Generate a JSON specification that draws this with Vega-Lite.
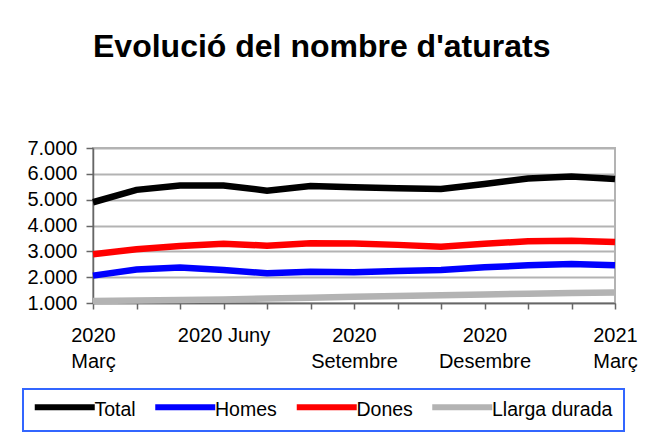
{
  "$schema": "https://vega.github.io/schema/vega-lite/v6.json",
  "width": 522,
  "height": 155,
  "autosize": {"type": "none"},
  "padding": {"left": 93, "top": 148, "right": 50, "bottom": 132},
  "background": "white",
  "config": {
    "font": "Liberation Sans",
    "view": {"stroke": "#b3b3b3", "strokeWidth": 2}
  },
  "title": {
    "text": "Evolució del nombre d'aturats",
    "anchor": "start",
    "frame": "group",
    "fontSize": 32,
    "fontWeight": "bold",
    "color": "black",
    "offset": 74
  },
  "data": {
    "values": [
      {"mes": "2020 Març", "serie": "Total", "aturats": 4900},
      {"mes": "2020 Abril", "serie": "Total", "aturats": 5380},
      {"mes": "2020 Maig", "serie": "Total", "aturats": 5550},
      {"mes": "2020 Juny", "serie": "Total", "aturats": 5550},
      {"mes": "2020 Juliol", "serie": "Total", "aturats": 5350},
      {"mes": "2020 Agost", "serie": "Total", "aturats": 5530},
      {"mes": "2020 Setembre", "serie": "Total", "aturats": 5480},
      {"mes": "2020 Octubre", "serie": "Total", "aturats": 5440},
      {"mes": "2020 Novembre", "serie": "Total", "aturats": 5410},
      {"mes": "2020 Desembre", "serie": "Total", "aturats": 5610},
      {"mes": "2021 Gener", "serie": "Total", "aturats": 5820},
      {"mes": "2021 Febrer", "serie": "Total", "aturats": 5900},
      {"mes": "2021 Març", "serie": "Total", "aturats": 5800},
      {"mes": "2020 Març", "serie": "Homes", "aturats": 2060},
      {"mes": "2020 Abril", "serie": "Homes", "aturats": 2300},
      {"mes": "2020 Maig", "serie": "Homes", "aturats": 2370},
      {"mes": "2020 Juny", "serie": "Homes", "aturats": 2280},
      {"mes": "2020 Juliol", "serie": "Homes", "aturats": 2150},
      {"mes": "2020 Agost", "serie": "Homes", "aturats": 2210},
      {"mes": "2020 Setembre", "serie": "Homes", "aturats": 2190},
      {"mes": "2020 Octubre", "serie": "Homes", "aturats": 2240},
      {"mes": "2020 Novembre", "serie": "Homes", "aturats": 2280},
      {"mes": "2020 Desembre", "serie": "Homes", "aturats": 2380},
      {"mes": "2021 Gener", "serie": "Homes", "aturats": 2460},
      {"mes": "2021 Febrer", "serie": "Homes", "aturats": 2510},
      {"mes": "2021 Març", "serie": "Homes", "aturats": 2460},
      {"mes": "2020 Març", "serie": "Dones", "aturats": 2890},
      {"mes": "2020 Abril", "serie": "Dones", "aturats": 3080},
      {"mes": "2020 Maig", "serie": "Dones", "aturats": 3210},
      {"mes": "2020 Juny", "serie": "Dones", "aturats": 3290},
      {"mes": "2020 Juliol", "serie": "Dones", "aturats": 3220},
      {"mes": "2020 Agost", "serie": "Dones", "aturats": 3310},
      {"mes": "2020 Setembre", "serie": "Dones", "aturats": 3300},
      {"mes": "2020 Octubre", "serie": "Dones", "aturats": 3250},
      {"mes": "2020 Novembre", "serie": "Dones", "aturats": 3180},
      {"mes": "2020 Desembre", "serie": "Dones", "aturats": 3290},
      {"mes": "2021 Gener", "serie": "Dones", "aturats": 3390},
      {"mes": "2021 Febrer", "serie": "Dones", "aturats": 3410},
      {"mes": "2021 Març", "serie": "Dones", "aturats": 3360},
      {"mes": "2020 Març", "serie": "Llarga durada", "aturats": 1080},
      {"mes": "2020 Abril", "serie": "Llarga durada", "aturats": 1100},
      {"mes": "2020 Maig", "serie": "Llarga durada", "aturats": 1120},
      {"mes": "2020 Juny", "serie": "Llarga durada", "aturats": 1140},
      {"mes": "2020 Juliol", "serie": "Llarga durada", "aturats": 1170},
      {"mes": "2020 Agost", "serie": "Llarga durada", "aturats": 1200},
      {"mes": "2020 Setembre", "serie": "Llarga durada", "aturats": 1240},
      {"mes": "2020 Octubre", "serie": "Llarga durada", "aturats": 1270},
      {"mes": "2020 Novembre", "serie": "Llarga durada", "aturats": 1300},
      {"mes": "2020 Desembre", "serie": "Llarga durada", "aturats": 1330},
      {"mes": "2021 Gener", "serie": "Llarga durada", "aturats": 1360},
      {"mes": "2021 Febrer", "serie": "Llarga durada", "aturats": 1390},
      {"mes": "2021 Març", "serie": "Llarga durada", "aturats": 1410}
    ]
  },
  "mark": {"type": "line", "strokeWidth": 6.5, "clip": false},
  "encoding": {
    "x": {
      "field": "mes",
      "type": "ordinal",
      "sort": ["2020 Març", "2020 Abril", "2020 Maig", "2020 Juny", "2020 Juliol", "2020 Agost", "2020 Setembre", "2020 Octubre", "2020 Novembre", "2020 Desembre", "2021 Gener", "2021 Febrer", "2021 Març"],
      "scale": {"type": "point", "padding": 0},
      "axis": {
        "title": null,
        "labelAngle": 0,
        "labelFontSize": 20,
        "labelColor": "black",
        "labelPadding": 16,
        "labelLineHeight": 26,
        "labelOverlap": false,
        "labelBound": false,
        "labelFlush": false,
        "labelBaseline": "top",
        "labelExpr": "indexof(['2020 Març', '2020 Setembre', '2020 Desembre', '2021 Març'], datum.value) >= 0 ? split(datum.value, ' ') : (datum.value == '2020 Juny' ? datum.value : '')",
        "tickSize": 6,
        "tickColor": "#666666",
        "tickWidth": 1.5,
        "domainColor": "#666666",
        "domainWidth": 1.5,
        "grid": false
      }
    },
    "y": {
      "field": "aturats",
      "type": "quantitative",
      "scale": {"domain": [1000, 7000], "nice": false, "zero": false},
      "axis": {
        "title": null,
        "values": [1000, 2000, 3000, 4000, 5000, 6000, 7000],
        "labelExpr": "replace(format(datum.value, ',.0f'), ',', '.')",
        "labelFontSize": 20,
        "labelColor": "black",
        "labelPadding": 9,
        "tickSize": 7,
        "tickColor": "#666666",
        "tickWidth": 1.5,
        "domainColor": "#666666",
        "domainWidth": 1.5,
        "gridColor": "#b3b3b3",
        "gridWidth": 2
      }
    },
    "color": {
      "field": "serie",
      "type": "nominal",
      "scale": {
        "domain": ["Total", "Homes", "Dones", "Llarga durada"],
        "range": ["#000000", "#0000ff", "#ff0000", "#b3b3b3"]
      },
      "legend": {
        "title": null,
        "orient": "none",
        "legendX": -70,
        "legendY": 241,
        "direction": "horizontal",
        "symbolType": "M-1.5,-0.5H8.5",
        "symbolSize": 144,
        "symbolStrokeWidth": 6,
        "labelFontSize": 19.5,
        "labelColor": "black",
        "labelOffset": 41,
        "columnPadding": 6.5,
        "padding": 11,
        "strokeColor": "#3366ff",
        "encode": {"legend": {"update": {"strokeWidth": {"value": 2}}}}
      }
    }
  }
}
